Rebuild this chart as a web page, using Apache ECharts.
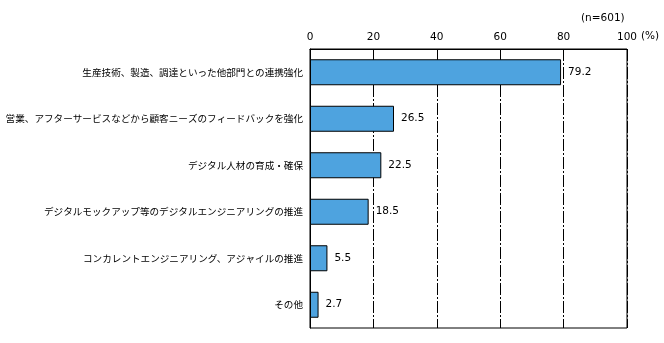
<!DOCTYPE html>
<html>
<head>
<meta charset="utf-8">
<script src="https://cdn.jsdelivr.net/npm/echarts@6/dist/echarts.min.js"></script>
<style>html,body{margin:0;padding:0;background:#fff}#c{width:664px;height:343px}</style>
</head>
<body>
<div id="c"></div>
<script>
const categories = [
  '生産技術、製造、調達といった他部門との連携強化',
  '営業、アフターサービスなどから顧客ニーズのフィードバックを強化',
  'デジタル人材の育成・確保',
  'デジタルモックアップ等のデジタルエンジニアリングの推進',
  'コンカレントエンジニアリング、アジャイルの推進',
  'その他'
];
const values = [79.2, 26.5, 22.5, 18.5, 5.5, 2.7];
const tickLabels = ['0', '20', '40', '60', '80', '100'];
const sampleNote = '(n=601)';
const unitNote = '(%)';

const chart = echarts.init(document.getElementById('c'), null, {renderer: 'canvas'});
chart.setOption({
  animation: false,
  backgroundColor: '#fff',
  grid: {left: 310, right: 37, top: 49, bottom: 15, show: true, borderColor: '#000', borderWidth: 1, backgroundColor: 'transparent'},
  xAxis: {
    type: 'value', position: 'top', min: 0, max: 100, interval: 20,
    axisLine: {show: true, lineStyle: {color: '#000', width: 1}},
    axisTick: {show: false},
    axisLabel: {
      color: '#000', fontSize: 10.5, fontFamily: 'DejaVu Sans', margin: 6,
      formatter: (v) => tickLabels[Math.round(v / 20)]
    },
    splitLine: {show: true, lineStyle: {color: '#000', width: 1, type: [12, 2, 2, 2]}}
  },
  yAxis: {
    type: 'category', data: categories, inverse: true,
    axisLine: {show: true, lineStyle: {color: '#000', width: 1}},
    axisTick: {show: false},
    axisLabel: {color: '#000', fontSize: 9.6, fontFamily: 'Noto Sans CJK JP', margin: 7}
  },
  series: [{
    type: 'bar', data: values, barWidth: 26,
    itemStyle: {color: '#4ea3df', borderColor: '#000', borderWidth: 1},
    label: {show: true, position: 'right', distance: 7, color: '#000', fontSize: 10.5, fontFamily: 'DejaVu Sans',
      formatter: (p) => p.value.toFixed(1)}
  }],
  graphic: [
    {type: 'text', left: 581, top: 13, style: {text: sampleNote, fill: '#000', fontSize: 10.5, fontFamily: 'DejaVu Sans'}},
    {type: 'text', left: 641, top: 31, style: {text: unitNote, fill: '#000', fontSize: 10.5, fontFamily: 'DejaVu Sans'}}
  ]
});
</script>
</body>
</html>
